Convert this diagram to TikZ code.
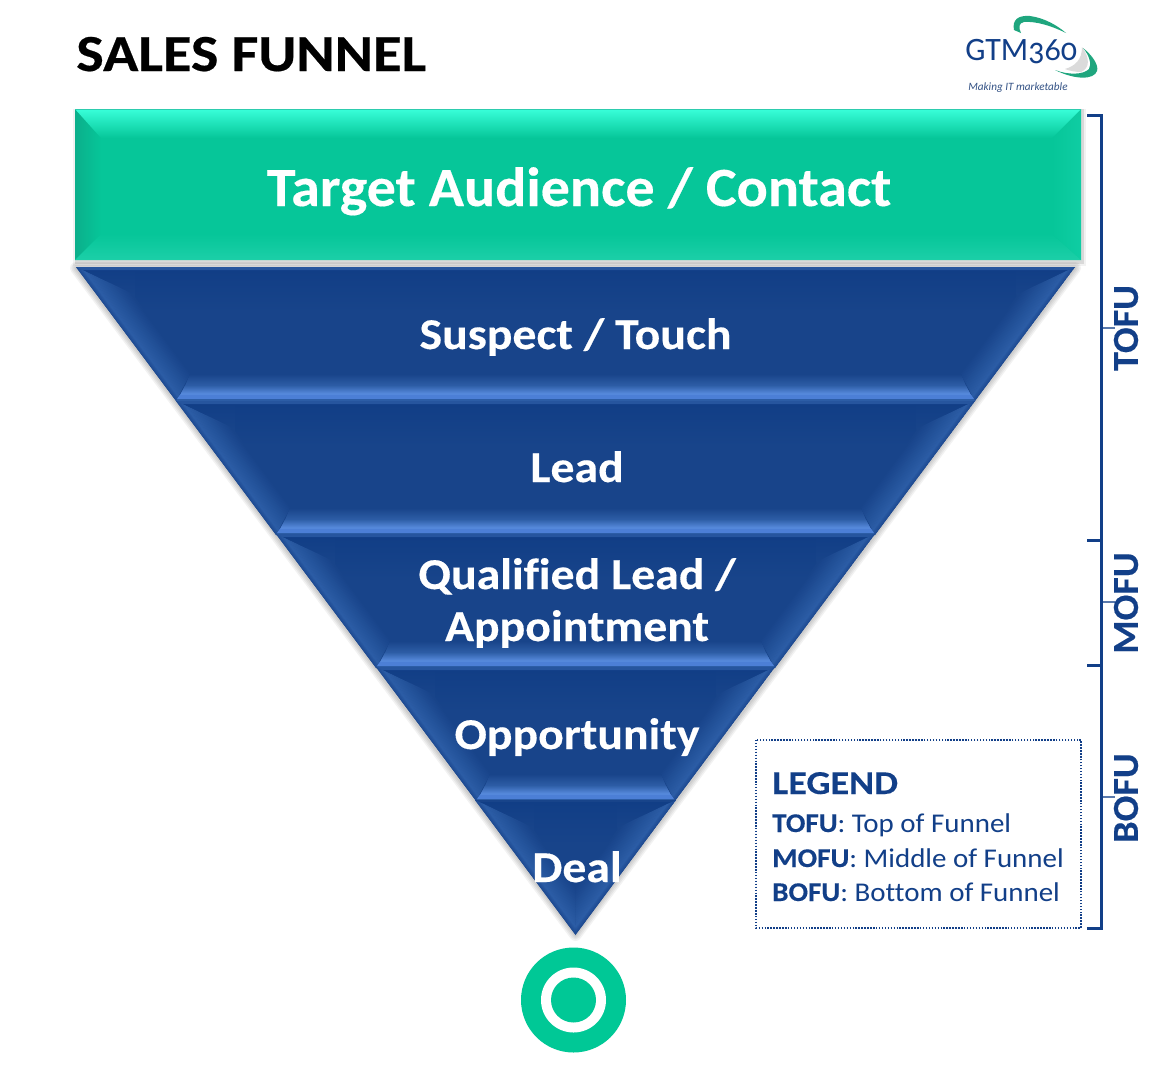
\documentclass[tikz,border=0pt]{standalone}
\usepackage{fontspec}
\setmainfont[Ligatures=NoCommon]{Carlito}
\newfontfamily\logofont[Numbers=OldStyle,FakeStretch=0.98]{Carlito}
\newfontfamily\titlefont[Ligatures=NoCommon,FakeStretch=1.12,FakeBold=0.4]{Carlito Bold}
\newfontfamily\targetfont[Ligatures=NoCommon,FakeStretch=1.05,FakeBold=0.3]{Carlito Bold}
\newfontfamily\labelfont[Ligatures=NoCommon,FakeStretch=1.085,FakeBold=0.3]{Carlito Bold}
\newfontfamily\sidefont[Ligatures=NoCommon,FakeStretch=1.04,FakeBold=0.3]{Carlito Bold}
\newfontfamily\legendhead[Ligatures=NoCommon,FakeStretch=1.14,FakeBold=0.2]{Carlito Bold}
\newfontfamily\legendreg[Ligatures=NoCommon,FakeStretch=1.07]{Carlito}
\newfontfamily\legendbold[Ligatures=NoCommon,FakeStretch=1.07,FakeBold=0.3]{Carlito Bold}
\definecolor{navy}{HTML}{123F88}
\definecolor{layerbase}{HTML}{18448A}
\definecolor{layertop}{HTML}{113E86}
\definecolor{bevelside}{HTML}{2C5DA6}
\definecolor{beveledge}{HTML}{1F4C94}
\definecolor{bevelmid}{HTML}{2F5FA8}
\definecolor{bevellow}{HTML}{5E92E6}
\definecolor{bevelline}{HTML}{4C7FD6}
\definecolor{teal}{HTML}{06C699}
\definecolor{tealtop}{HTML}{38FFD9}
\definecolor{tealside}{HTML}{0BAF8B}
\definecolor{tealright}{HTML}{0FCDA3}
\definecolor{tealbottom}{HTML}{1CCFA8}
\definecolor{ringgreen}{HTML}{00C896}
\definecolor{swoosh}{HTML}{1FA67E}
\tikzset{
  px/.style={x=0.75pt,y=-0.75pt},
  layerlabel/.style={text=white,font=\labelfont\fontsize{33}{36}\selectfont,anchor=base,inner sep=0pt},
  bracketline/.style={draw=navy,line width=2.25pt},
  smalltick/.style={draw=navy!70,line width=1.5pt},
  sidelabel/.style={text=navy,font=\sidefont\fontsize{27.5}{30}\selectfont,rotate=90,inner sep=0pt,anchor=center},
  legendtext/.style={text=navy,font=\legendreg\fontsize{20.3}{24}\selectfont,anchor=base west,inner sep=0pt},
  glow/.style={draw=black,draw opacity=.05,line join=round,fill=none}
}
% strips parallel to a slanted edge, fading inward: #1 edge point, #2 inward angle
\newcommand{\sidefan}[2]{%
  \begin{scope}[shift={#1},rotate=#2]
    \foreach \i in {0,...,4}{
      \pgfmathsetmacro{\pct}{\i*25}
      \fill[bevelside!\pct!beveledge] (\i,-400) rectangle (\i+1.3,400);
    }
    \foreach \i in {4,...,28}{
      \pgfmathsetmacro{\pct}{100-(\i-4)*100/24}
      \fill[bevelside!\pct!layerbase] (\i,-400) rectangle (\i+1.3,400);
    }
  \end{scope}%
}
% #1 left x at the top, #2 top y; mirror axis x=575.5
\newcommand{\funnellayer}[2]{%
  \pgfmathsetmacro{\ax}{#1}\pgfmathsetmacro{\ay}{#2}
  \pgfmathsetmacro{\bx}{\ax+100}\pgfmathsetmacro{\by}{\ay+134}
  \pgfmathsetmacro{\cx}{1151-\bx}\pgfmathsetmacro{\dx}{1151-\ax}
  \fill[layerbase] (\ax,\ay) -- (\dx,\ay) -- (\cx,\by) -- (\bx,\by) -- cycle;
  \shade[top color=layertop,bottom color=layerbase] (\ax+59,\ay+3) -- (\dx-59,\ay+3) -- (\dx-59,\ay+45) -- (\ax+59,\ay+45) -- cycle;
  \shade[top color=layertop,bottom color=layerbase] (\ax+2,\ay+2) -- (\ax+59,\ay+3) -- (\ax+59,\ay+28) -- cycle;
  \shade[top color=layertop,bottom color=layerbase] (\dx-2,\ay+2) -- (\dx-59,\ay+3) -- (\dx-59,\ay+28) -- cycle;
  \fill[bevelside!70!layerbase] (\ax+1,\ay) -- (\dx-1,\ay) -- (\dx-3,\ay+3) -- (\ax+3,\ay+3) -- cycle;
  % left bevel
  \begin{scope}
    \clip (\ax,\ay) -- (\ax+59,\ay+28) -- (\bx+14,\by-27) -- (\bx,\by) -- cycle;
    \sidefan{(\ax,\ay)}{36.8}
  \end{scope}
  % right bevel
  \begin{scope}
    \clip (\dx,\ay) -- (\dx-59,\ay+28) -- (\cx-14,\by-27) -- (\cx,\by) -- cycle;
    \sidefan{(\dx,\ay)}{143.2}
  \end{scope}
  % bottom bevel
  \shade[top color=layerbase,bottom color=bevelmid]
    (\bx+14,\by-27) -- (\cx-14,\by-27) -- (\cx-9,\by-15) -- (\bx+9,\by-15) -- cycle;
  \shade[top color=bevelmid,bottom color=bevellow]
    (\bx+9,\by-15.5) -- (\cx-9,\by-15.5) -- (\cx-4,\by-6) -- (\bx+4,\by-6) -- cycle;
  \fill[bevelline] (\bx+4,\by-6.5) -- (\cx-4,\by-6.5) -- (\cx-1,\by-2) -- (\bx+1,\by-2) -- cycle;
  \fill[bevelside] (\bx+1,\by-2) -- (\cx-1,\by-2) -- (\cx,\by) -- (\bx,\by) -- cycle;
}
\begin{document}
\begin{tikzpicture}[px]
\useasboundingbox (0,0) rectangle (1168,1079);
\fill[white] (0,0) rectangle (1168,1079);

% title and logo
\node[anchor=base west,inner sep=0pt,font=\titlefont\fontsize{39}{42}\selectfont] (title) at (76,71) {SALES FUNNEL};
\fill[swoosh] (1014,30) .. controls (1012,20) and (1018,15) .. (1030,16)
   .. controls (1045,18) and (1058,26) .. (1066,33)
   .. controls (1052,26) and (1036,21) .. (1024,22)
   .. controls (1019,23) and (1018,27) .. (1021,33) -- cycle;
\fill[black!14] (1082,47) .. controls (1090,58) and (1090,68) .. (1081,72)
   .. controls (1076,72) and (1070,71) .. (1065,69)
   .. controls (1075,66) and (1082,60) .. (1082,47) -- cycle;
\fill[swoosh] (1083,48) .. controls (1092,55) and (1099,65) .. (1097,71)
   .. controls (1094,80) and (1075,80) .. (1055,70)
   .. controls (1068,75) and (1083,75) .. (1089,69)
   .. controls (1092,64) and (1089,55) .. (1083,48) -- cycle;
\node[anchor=base west,inner sep=0pt,text=navy,font=\logofont\fontsize{24.5}{28}\selectfont] (logo) at (965,60) {GTM360};
\node[anchor=base west,inner sep=0pt,text=navy!70!gray,font=\itshape\fontsize{8.4}{10}\selectfont] (tagline) at (968,90) {Making IT marketable};

% top bar
\fill[black,opacity=.05] (73,109) rectangle (1086,266);
\fill[black,opacity=.10] (75,109) rectangle (1084,264);
\fill[teal] (75,109) rectangle (1081,260);
\shade[left color=tealside,right color=teal] (75,109) -- (101,135) -- (101,234) -- (75,260) -- cycle;
\shade[left color=teal,right color=tealright] (1081,109) -- (1052,138) -- (1052,234) -- (1081,260) -- cycle;
\shade[top color=tealtop,bottom color=teal] (75,109) -- (1081,109) -- (1052,138) -- (101,138) -- (75,109) -- cycle;
\shade[top color=teal,bottom color=tealbottom] (75,260) -- (101,234) -- (1052,234) -- (1081,260) -- cycle;
\draw[black!20!tealtop,line width=.75pt] (75,109) -- (1081,109);
\node[layerlabel,font=\targetfont\fontsize{41.5}{44}\selectfont] (target) at (579,206) {Target Audience / Contact};

% funnel
\foreach \w in {12,9,6,3}
  \draw[glow,line width=\w*0.75pt] (76,268) -- (1075,268) -- (575.5,935) -- cycle;
\funnellayer{76}{267}
\funnellayer{176}{401}
\funnellayer{276}{534}
\funnellayer{376}{667}
% last layer: the tip
\fill[layerbase] (475,800) -- (676,800) -- (575.5,935) -- cycle;
\shade[top color=layertop,bottom color=layerbase] (534,802) -- (617,802) -- (617,845) -- (534,845) -- cycle;
\shade[top color=layertop,bottom color=layerbase] (477,802) -- (534,802) -- (534,828) -- cycle;
\shade[top color=layertop,bottom color=layerbase] (674,802) -- (617,802) -- (617,828) -- cycle;
\begin{scope}
  \clip (475,800) -- (534,828) -- (575.5,886) -- (575.5,935) -- cycle;
  \sidefan{(475,800)}{36.8}
\end{scope}
\begin{scope}
  \clip (676,800) -- (617,828) -- (575.5,886) -- (575.5,935) -- cycle;
  \sidefan{(676,800)}{143.2}
\end{scope}

\node[layerlabel] (suspect) at (575.5,349) {Suspect / Touch};
\node[layerlabel] (lead) at (577,482) {Lead};
\node[layerlabel] (qualified) at (577,589) {Qualified Lead /};
\node[layerlabel] (appointment) at (577,641) {Appointment};
\node[layerlabel] (opportunity) at (577,749) {Opportunity};
\node[layerlabel] (deal) at (577,882) {Deal};

% target circle
\fill[ringgreen] (573.5,1000) circle[radius=52.5];
\fill[white] (573.5,1000) circle[radius=32.5];
\fill[ringgreen] (573.5,1000) circle[radius=22.5];

% bracket
\draw[smalltick] (1101,328) -- (1115,328);
\draw[smalltick] (1101,602) -- (1115,602);
\draw[smalltick] (1101,797) -- (1115,797);
\draw[bracketline] (1087,115) -- (1101,115) -- (1101,928) -- (1087,928);
\draw[bracketline] (1087,540) -- (1101,540);
\draw[bracketline] (1087,665) -- (1101,665);
\node[sidelabel] (tofu) at (1126,328) {TOFU};
\node[sidelabel] (mofu) at (1126,603) {MOFU};
\node[sidelabel] (bofu) at (1126,798) {BOFU};

% legend
\draw[navy,line width=1.1pt,dash pattern=on 1.1pt off 1.1pt] (756,740) rectangle (1081,928);
\node[legendtext,font=\legendhead\fontsize{25}{28}\selectfont] (legend) at (772,794) {LEGEND};
\node[legendtext] (l1) at (772,832) {{\legendbold TOFU}: Top of Funnel};
\node[legendtext] (l2) at (772,867) {{\legendbold MOFU}: Middle of Funnel};
\node[legendtext] (l3) at (772,901) {{\legendbold BOFU}: Bottom of Funnel};
\end{tikzpicture}
\end{document}
